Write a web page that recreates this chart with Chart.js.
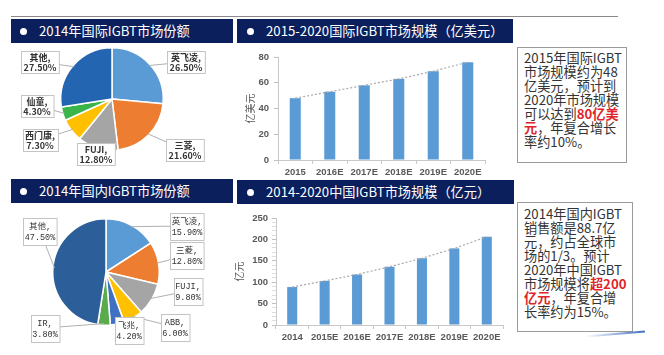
<!DOCTYPE html>
<html><head><meta charset="utf-8">
<script src="https://cdn.jsdelivr.net/npm/chart.js@4.4.1/dist/chart.umd.min.js"></script>
<style>
html,body{margin:0;padding:0;background:#fff;}
body{width:664px;height:355px;position:relative;overflow:hidden;font-family:"Noto Sans CJK SC",sans-serif;}
.topline{position:absolute;left:11px;top:16px;width:607px;height:1px;background:#8a8a8a;}
.hdr{position:absolute;background:#0b1f5c;color:#fff;font-size:13.2px;line-height:24px;height:24px;white-space:nowrap;}
.hdr .dot{position:absolute;width:7px;height:7px;border-radius:50%;background:#fff;top:9px;}
.hdr span.t{position:absolute;top:0;}
.box{position:absolute;border:1px solid #9a9a9a;background:#fff;color:#333;font-size:13.2px;line-height:14px;white-space:nowrap;box-sizing:border-box;}
.red{color:#e0262c;font-weight:bold;}
canvas{position:absolute;}
.swoosh{position:absolute;left:585px;top:333px;width:60px;height:2px;background:linear-gradient(90deg,rgba(60,110,190,0),#3c6ebe);transform:rotate(-5deg);}
</style></head>
<body>
<div class="topline"></div>
<div class="hdr" style="left:11px;top:19px;width:222px;"><div class="dot" style="left:9px"></div><span class="t" style="left:28px">2014年国际IGBT市场份额</span></div>
<div class="hdr" style="left:237px;top:19px;width:276px;"><div class="dot" style="left:10px"></div><span class="t" style="left:29px">2015-2020国际IGBT市场规模（亿美元）</span></div>
<div class="hdr" style="left:11px;top:179px;width:222px;"><div class="dot" style="left:9px"></div><span class="t" style="left:28px">2014年国内IGBT市场份额</span></div>
<div class="hdr" style="left:237px;top:180px;width:277px;"><div class="dot" style="left:10px"></div><span class="t" style="left:29px">2014-2020中国IGBT市场规模（亿元）</span></div>

<div class="box" style="left:517px;top:47px;width:110px;height:116px;padding:3px 0 0 6px;">2015年国际IGBT<br>市场规模约为48<br>亿美元，预计到<br>2020年市场规模<br>可以达到<span class="red">80亿美</span><br><span class="red">元</span>，年复合增长<br>率约10%。</div>
<div class="box" style="left:517px;top:202px;width:116px;height:130px;padding:4px 0 0 6px;">2014年国内IGBT<br>销售额是88.7亿<br>元，约占全球市<br>场的1/3。预计<br>2020年中国IGBT<br>市场规模将<span class="red">超200</span><br><span class="red">亿元</span>，年复合增<br>长率约为15%。</div>
<div class="swoosh"></div>

<canvas id="pie1" width="232" height="132" style="left:0;top:44px;width:232px;height:132px;"></canvas>
<canvas id="pie2" width="232" height="150" style="left:0;top:204px;width:232px;height:150px;"></canvas>
<canvas id="bar1" width="287" height="134" style="left:226px;top:44px;width:287px;height:134px;"></canvas>
<canvas id="bar2" width="287" height="150" style="left:226px;top:204px;width:287px;height:150px;"></canvas>

<script>
// ---- data ----
const globalShareLabels = ['英飞凌', '三菱', 'FUJI', '西门康', '仙童', '其他'];
const globalShareValues = [26.5, 21.6, 12.8, 7.3, 4.3, 27.5];
const domesticShareLabels = ['英飞凌', '三菱', 'FUJI', 'ABB', '飞兆', 'IR', '其他'];
const domesticShareValues = [15.9, 12.8, 9.8, 6.0, 4.2, 3.8, 47.5];
const globalYears = ['2015', '2016E', '2017E', '2018E', '2019E', '2020E'];
const globalMarket = [48, 53, 58, 63, 69, 76];
const chinaYears = ['2014', '2015E', '2016E', '2017E', '2018E', '2019E', '2020E'];
const chinaMarket = [88.7, 103, 118, 136, 156, 179, 206];

// ---- styles ----
const globalColors = ['#5b9bd5', '#ed7d31', '#a5a5a5', '#ffc000', '#3bb54a', '#2365b0'];
const domesticColors = ['#5b9bd5', '#ed7d31', '#a5a5a5', '#ffc000', '#3f70c2', '#5aab4e', '#2c5f9a'];
const globalLabelOffsets = [[74,-37],[73,51],[-16,55],[-72,41],[-75,7],[-72,-37]];
const domesticLabelOffsets = [[81,-46],[81,-17],[82,19],[69,55],[23,58],[-61,56],[-66,-41]];

const pieLabels = {
  id: 'pieLabels',
  afterDraw(chart, args, o) {
    const ctx = chart.ctx;
    const meta = chart.getDatasetMeta(0);
    const labels = chart.data.labels;
    const vals = chart.data.datasets[0].data;
    ctx.save();
    ctx.font = o.font;
    meta.data.forEach((arc, i) => {
      const p = arc.getProps(['x','y','startAngle','endAngle','outerRadius'], true);
      const mid = (p.startAngle + p.endAngle) / 2;
      const ax = p.x + Math.cos(mid) * p.outerRadius * 0.97;
      const ay = p.y + Math.sin(mid) * p.outerRadius * 0.97;
      const bx = p.x + o.offsets[i][0], by = p.y + o.offsets[i][1];
      const lines = [labels[i] + ',', vals[i].toFixed(2) + '%'];
      const w = Math.max(...lines.map(l => ctx.measureText(l).width)) + 2 * o.padX;
      const h = lines.length * o.lineHeight + 2 * o.padY;
      ctx.strokeStyle = '#b0b0b0'; ctx.lineWidth = 1;
      ctx.beginPath(); ctx.moveTo(ax, ay); ctx.lineTo(bx, by); ctx.stroke();
      const lx = Math.round(bx - w/2) + 0.5, ly = Math.round(by - h/2) + 0.5;
      ctx.fillStyle = '#fff'; ctx.fillRect(lx, ly, w, h);
      ctx.strokeStyle = '#c4c4c4'; ctx.strokeRect(lx, ly, w, h);
      ctx.fillStyle = '#333'; ctx.textAlign = 'center'; ctx.textBaseline = 'middle';
      lines.forEach((l, j) => ctx.fillText(l, bx, ly + o.padY + o.lineHeight * (j + 0.5)));
    });
    ctx.restore();
  }
};

function pie(id, labels, values, colors, pad, labelOpts) {
  new Chart(document.getElementById(id), {
    type: 'pie',
    data: { labels, datasets: [{ data: values, backgroundColor: colors, borderColor: '#fff', borderWidth: 1.5 }] },
    options: {
      responsive: false, animation: false,
      layout: { padding: pad },
      plugins: { legend: { display: false }, tooltip: { enabled: false }, pieLabels: labelOpts }
    },
    plugins: [pieLabels]
  });
}
pie('pie1', globalShareLabels, globalShareValues, globalColors,
  { left: 60, right: 68, top: 3, bottom: 25 },
  { offsets: globalLabelOffsets, font: 'bold 9px "Noto Sans CJK SC"', lineHeight: 10, padX: 2.5, padY: 1 });
pie('pie2', domesticShareLabels, domesticShareValues, domesticColors,
  { left: 52, right: 72, top: 14, bottom: 28 },
  { offsets: domesticLabelOffsets, font: '8.5px "Liberation Mono", "Noto Sans CJK SC"', lineHeight: 11.5, padX: 1.5, padY: 2 });

function bar(id, labels, values, o) {
  const tickFont = { family: '"Liberation Sans", Arial, sans-serif', size: 9.5, weight: 'bold' };
  new Chart(document.getElementById(id), {
    data: {
      labels,
      datasets: [
        { type: 'line', data: values, borderColor: '#a8a8a8', borderWidth: 1.2, borderDash: [2, 2], pointRadius: 0, tension: 0, order: 0 },
        { type: 'bar', data: values, backgroundColor: '#5b9bd5', categoryPercentage: 1, barPercentage: o.barPct, order: 1 }
      ]
    },
    options: {
      responsive: false, animation: false,
      layout: { padding: o.pad },
      plugins: { legend: { display: false }, tooltip: { enabled: false } },
      scales: {
        x: {
          grid: { drawOnChartArea: false, drawTicks: true, tickLength: 4, color: '#c8c8c8' },
          border: { color: '#c8c8c8' },
          ticks: { font: tickFont, color: '#595959', padding: 3, maxRotation: 0, autoSkip: false },
          afterFit: s => { s.height = o.xH; }
        },
        y: {
          min: 0, max: o.max,
          grid: { drawOnChartArea: false, drawTicks: true, tickLength: 4,
                  color: ctx => (ctx.tick && ctx.tick.value % o.major === 0) ? '#c0c0c0' : '#dedede' },
          border: { color: '#c8c8c8' },
          ticks: { stepSize: o.step, autoSkip: false, font: tickFont, color: '#595959', padding: o.tickPad,
                   callback: v => (v % o.major === 0 ? String(v) : '') },
          title: { display: true, text: o.title, color: '#595959', font: { family: '"Noto Sans CJK SC"', size: 10 }, padding: { top: o.titlePad, bottom: 0 } },
          afterFit: s => { s.width = o.yW; }
        }
      }
    }
  });
}
bar('bar1', globalYears, globalMarket,
  { barPct: 0.32, pad: { left: 0, right: 28, top: 13, bottom: 0 }, xH: 18, yW: 52, max: 80, step: 20, major: 20, tickPad: 5, title: '亿美元', titlePad: 18 });
bar('bar2', chinaYears, chinaMarket,
  { barPct: 0.31, pad: { left: 0, right: 10, top: 14, bottom: 0 }, xH: 29, yW: 50, max: 250, step: 10, major: 50, tickPad: 4, title: '亿元', titlePad: 7 });
</script>
</body></html>
